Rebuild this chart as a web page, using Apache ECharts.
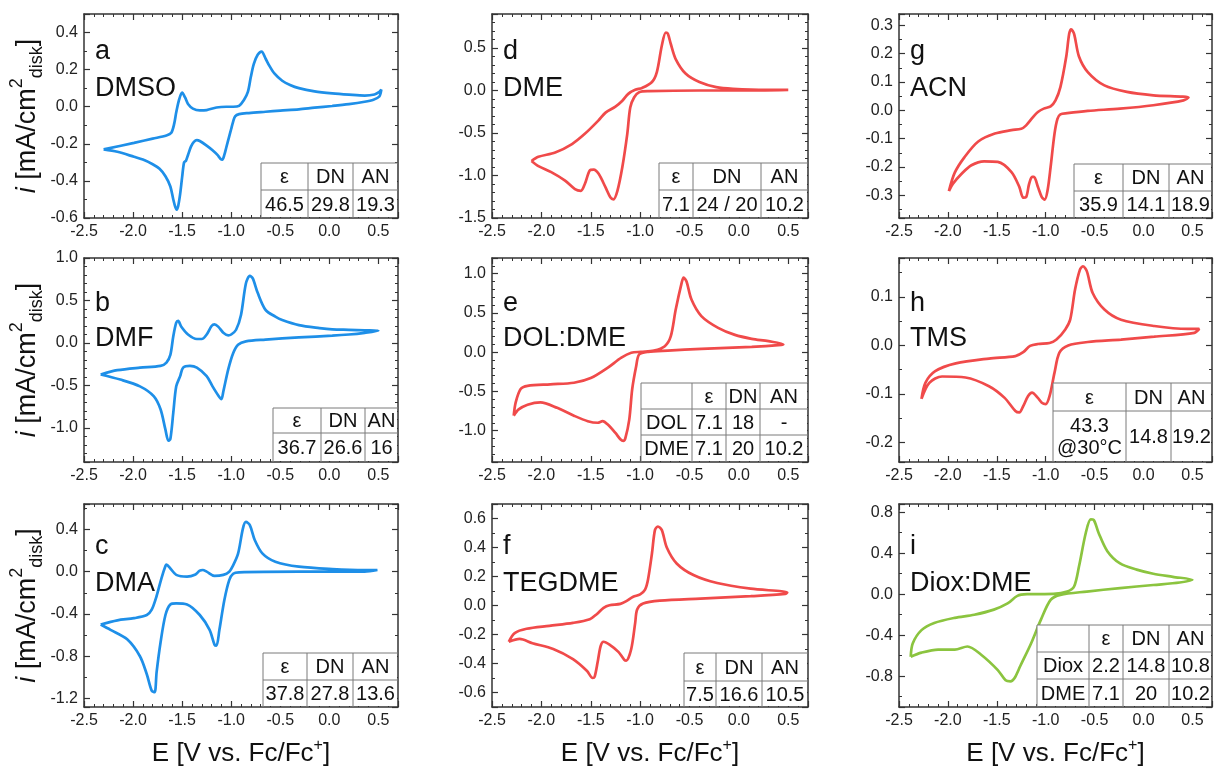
<!DOCTYPE html>
<html><head><meta charset="utf-8">
<script src="https://cdn.jsdelivr.net/npm/echarts@6/dist/echarts.min.js"></script>
<style>html,body{margin:0;padding:0;background:#fff}#c{width:1217px;height:766px}</style>
</head><body><div id="c"></div>
<script>
// ---------- DATA: [E (V vs Fc/Fc+), i (mA/cm^2)] ----------
const dmso = [[-2.30,-0.230],[-1.99,-0.195],[-1.80,-0.172],[-1.66,-0.155],[-1.61,-0.140],[-1.58,-0.090],[-1.56,-0.030],[-1.53,0.040],[-1.50,0.076],[-1.47,0.050],[-1.44,0.015],[-1.39,-0.010],[-1.32,-0.020],[-1.25,-0.018],[-1.15,-0.004],[-1.05,0.000],[-0.98,0.000],[-0.92,0.005],[-0.87,0.036],[-0.83,0.080],[-0.80,0.160],[-0.77,0.230],[-0.73,0.280],[-0.69,0.297],[-0.65,0.260],[-0.61,0.220],[-0.56,0.180],[-0.48,0.140],[-0.40,0.117],[-0.31,0.100],[-0.15,0.083],[0.03,0.072],[0.20,0.065],[0.36,0.060],[0.46,0.066],[0.51,0.080],[0.53,0.092],[0.51,0.055],[0.45,0.038],[0.36,0.027],[0.20,0.014],[0.03,0.004],[-0.15,-0.005],[-0.31,-0.014],[-0.50,-0.021],[-0.65,-0.027],[-0.82,-0.034],[-0.92,-0.040],[-0.96,-0.052],[-0.98,-0.080],[-1.00,-0.120],[-1.02,-0.160],[-1.05,-0.220],[-1.07,-0.260],[-1.09,-0.285],[-1.11,-0.280],[-1.14,-0.260],[-1.19,-0.235],[-1.25,-0.210],[-1.32,-0.185],[-1.35,-0.180],[-1.38,-0.190],[-1.41,-0.215],[-1.44,-0.260],[-1.46,-0.290],[-1.48,-0.300],[-1.50,-0.380],[-1.52,-0.470],[-1.54,-0.535],[-1.555,-0.555],[-1.57,-0.540],[-1.59,-0.500],[-1.62,-0.430],[-1.67,-0.375],[-1.73,-0.335],[-1.80,-0.310],[-1.90,-0.285],[-1.99,-0.270],[-2.16,-0.243],[-2.30,-0.230]];

const dmf = [[-2.33,-0.37],[-2.16,-0.32],[-1.93,-0.29],[-1.72,-0.27],[-1.66,-0.23],[-1.62,-0.14],[-1.59,0.08],[-1.56,0.24],[-1.54,0.26],[-1.51,0.195],[-1.44,0.10],[-1.35,0.047],[-1.30,0.047],[-1.25,0.10],[-1.20,0.20],[-1.17,0.22],[-1.13,0.19],[-1.08,0.12],[-1.03,0.09],[-1.00,0.10],[-0.95,0.156],[-0.90,0.33],[-0.85,0.70],[-0.81,0.79],[-0.78,0.76],[-0.73,0.59],[-0.65,0.39],[-0.55,0.31],[-0.48,0.27],[-0.31,0.21],[-0.10,0.175],[0.03,0.16],[0.20,0.155],[0.36,0.15],[0.50,0.145],[0.36,0.12],[0.20,0.10],[0.03,0.086],[-0.31,0.066],[-0.65,0.04],[-0.85,0.02],[-0.93,-0.02],[-0.98,-0.12],[-1.03,-0.31],[-1.08,-0.57],[-1.10,-0.66],[-1.13,-0.62],[-1.19,-0.51],[-1.25,-0.39],[-1.35,-0.29],[-1.42,-0.27],[-1.49,-0.29],[-1.52,-0.39],[-1.56,-0.51],[-1.59,-0.82],[-1.62,-1.13],[-1.64,-1.15],[-1.67,-1.02],[-1.72,-0.78],[-1.79,-0.625],[-1.93,-0.51],[-2.13,-0.43],[-2.33,-0.37]];

const dma = [[-2.33,-0.50],[-2.16,-0.46],[-1.99,-0.44],[-1.86,-0.41],[-1.81,-0.36],[-1.76,-0.23],[-1.71,-0.06],[-1.67,0.053],[-1.66,0.066],[-1.62,0.03],[-1.56,-0.03],[-1.45,-0.047],[-1.37,-0.03],[-1.32,0.01],[-1.29,0.016],[-1.25,0.00],[-1.17,-0.04],[-1.08,-0.03],[-1.02,0.00],[-0.98,0.06],[-0.93,0.17],[-0.88,0.41],[-0.85,0.47],[-0.81,0.44],[-0.76,0.30],[-0.68,0.17],[-0.55,0.094],[-0.31,0.047],[0.03,0.025],[0.36,0.016],[0.49,0.016],[0.36,0.00],[0.03,0.00],[-0.31,0.00],[-0.92,-0.006],[-0.98,-0.02],[-1.02,-0.08],[-1.07,-0.27],[-1.12,-0.55],[-1.15,-0.70],[-1.17,-0.69],[-1.22,-0.55],[-1.32,-0.41],[-1.45,-0.31],[-1.56,-0.30],[-1.62,-0.31],[-1.67,-0.41],[-1.72,-0.67],[-1.76,-0.95],[-1.78,-1.14],[-1.81,-1.125],[-1.86,-0.97],[-1.93,-0.80],[-2.06,-0.64],[-2.23,-0.55],[-2.33,-0.50]];

const dme = [[-2.10,-0.83],[-2.03,-0.78],[-1.86,-0.73],[-1.69,-0.63],[-1.56,-0.51],[-1.42,-0.35],[-1.35,-0.26],[-1.25,-0.19],[-1.18,-0.12],[-1.12,-0.04],[-1.05,0.008],[-0.98,0.03],[-0.88,0.10],[-0.83,0.22],[-0.78,0.53],[-0.74,0.68],[-0.72,0.67],[-0.69,0.55],[-0.64,0.37],[-0.54,0.20],[-0.40,0.10],[-0.23,0.04],[-0.06,0.02],[0.28,0.008],[0.50,0.008],[0.00,0.00],[-0.40,0.00],[-0.91,-0.008],[-1.01,-0.02],[-1.06,-0.08],[-1.10,-0.20],[-1.13,-0.51],[-1.18,-0.90],[-1.23,-1.18],[-1.27,-1.28],[-1.30,-1.26],[-1.35,-1.14],[-1.42,-0.98],[-1.47,-0.93],[-1.51,-0.94],[-1.56,-1.10],[-1.60,-1.18],[-1.66,-1.16],[-1.76,-1.06],[-1.90,-0.96],[-2.03,-0.89],[-2.10,-0.83]];

const dolDme = [[-2.28,-0.81],[-2.26,-0.64],[-2.21,-0.47],[-2.14,-0.43],[-1.91,-0.41],[-1.67,-0.39],[-1.50,-0.33],[-1.33,-0.20],[-1.19,-0.07],[-1.09,-0.008],[-0.99,0.004],[-0.86,0.02],[-0.75,0.076],[-0.69,0.20],[-0.64,0.54],[-0.58,0.88],[-0.56,0.95],[-0.53,0.90],[-0.48,0.67],[-0.38,0.46],[-0.21,0.31],[-0.04,0.22],[0.13,0.17],[0.30,0.14],[0.45,0.10],[0.43,0.093],[0.13,0.068],[-0.38,0.042],[-0.72,0.02],[-0.92,0.004],[-1.01,-0.03],[-1.04,-0.18],[-1.08,-0.47],[-1.11,-0.86],[-1.15,-1.10],[-1.17,-1.13],[-1.20,-1.11],[-1.25,-1.03],[-1.33,-0.92],[-1.38,-0.88],[-1.43,-0.90],[-1.53,-0.88],[-1.67,-0.81],[-1.84,-0.71],[-2.01,-0.64],[-2.14,-0.67],[-2.23,-0.73],[-2.28,-0.81]];

const tegdme = [[-2.33,-0.25],[-2.27,-0.19],[-2.15,-0.16],[-1.92,-0.14],[-1.68,-0.12],[-1.51,-0.095],[-1.44,-0.06],[-1.37,-0.016],[-1.31,0.002],[-1.20,0.011],[-1.14,0.03],[-1.07,0.06],[-1.00,0.077],[-0.95,0.11],[-0.92,0.18],[-0.88,0.36],[-0.85,0.52],[-0.82,0.545],[-0.78,0.52],[-0.73,0.40],[-0.63,0.29],[-0.46,0.21],[-0.22,0.155],[0.12,0.116],[0.49,0.09],[0.47,0.08],[0.12,0.064],[-0.39,0.048],[-0.80,0.034],[-0.97,0.014],[-1.03,-0.027],[-1.05,-0.12],[-1.09,-0.30],[-1.14,-0.38],[-1.16,-0.375],[-1.22,-0.32],[-1.31,-0.27],[-1.37,-0.25],[-1.40,-0.28],[-1.43,-0.39],[-1.46,-0.49],[-1.48,-0.50],[-1.54,-0.45],[-1.68,-0.37],[-1.88,-0.30],[-2.09,-0.26],[-2.22,-0.23],[-2.33,-0.25]];

const acn = [[-1.99,-0.285],[-1.93,-0.22],[-1.83,-0.165],[-1.69,-0.11],[-1.52,-0.082],[-1.35,-0.07],[-1.25,-0.065],[-1.20,-0.053],[-1.13,-0.024],[-1.08,-0.006],[-1.02,0.006],[-0.95,0.014],[-0.90,0.035],[-0.85,0.082],[-0.79,0.19],[-0.76,0.27],[-0.74,0.286],[-0.71,0.27],[-0.66,0.19],[-0.57,0.135],[-0.40,0.088],[-0.17,0.065],[0.10,0.053],[0.46,0.045],[0.41,0.035],[0.10,0.018],[-0.24,0.006],[-0.57,-0.002],[-0.78,-0.01],[-0.85,-0.014],[-0.88,-0.03],[-0.91,-0.082],[-0.95,-0.20],[-0.98,-0.28],[-1.01,-0.315],[-1.04,-0.306],[-1.08,-0.27],[-1.12,-0.235],[-1.14,-0.235],[-1.17,-0.26],[-1.20,-0.306],[-1.23,-0.308],[-1.27,-0.27],[-1.35,-0.218],[-1.49,-0.182],[-1.63,-0.18],[-1.76,-0.194],[-1.86,-0.224],[-1.95,-0.26],[-1.99,-0.285]];

const tms = [[-2.27,-0.11],[-2.23,-0.077],[-2.13,-0.053],[-1.92,-0.037],[-1.58,-0.027],[-1.31,-0.022],[-1.23,-0.014],[-1.16,-0.001],[-1.08,0.003],[-0.96,0.005],[-0.89,0.012],[-0.80,0.033],[-0.75,0.053],[-0.70,0.115],[-0.65,0.156],[-0.62,0.163],[-0.58,0.153],[-0.52,0.108],[-0.40,0.074],[-0.23,0.053],[0.11,0.04],[0.45,0.034],[0.57,0.034],[0.52,0.026],[0.11,0.018],[-0.23,0.012],[-0.57,0.007],[-0.77,0.00],[-0.86,-0.015],[-0.91,-0.056],[-0.96,-0.104],[-1.00,-0.121],[-1.04,-0.118],[-1.08,-0.108],[-1.14,-0.097],[-1.18,-0.104],[-1.23,-0.125],[-1.27,-0.138],[-1.31,-0.135],[-1.42,-0.108],[-1.58,-0.084],[-1.82,-0.066],[-2.06,-0.064],[-2.19,-0.077],[-2.27,-0.11]];

const dioxDme = [[-2.38,-0.61],[-2.36,-0.48],[-2.27,-0.35],[-2.14,-0.28],[-1.93,-0.23],[-1.73,-0.20],[-1.53,-0.15],[-1.39,-0.09],[-1.29,-0.016],[-1.19,0.00],[-0.92,0.003],[-0.78,0.026],[-0.71,0.075],[-0.66,0.27],[-0.59,0.60],[-0.54,0.73],[-0.51,0.725],[-0.46,0.60],[-0.37,0.42],[-0.24,0.30],[-0.07,0.24],[0.10,0.20],[0.30,0.17],[0.50,0.14],[0.37,0.114],[0.10,0.09],[-0.24,0.06],[-0.58,0.026],[-0.85,-0.006],[-0.95,-0.055],[-1.05,-0.25],[-1.15,-0.48],[-1.26,-0.70],[-1.32,-0.82],[-1.36,-0.85],[-1.41,-0.84],[-1.49,-0.74],[-1.66,-0.59],[-1.80,-0.51],[-1.93,-0.54],[-2.10,-0.54],[-2.27,-0.57],[-2.38,-0.61]];

// panel letters / solvent names
const letters = ['a','b','c','d','e','f','g','h','i'];
const solvents = ['DMSO','DMF','DMA','DME','DOL:DME','TEGDME','ACN','TMS','Diox:DME'];

// y-axis ranges: [min, max, major interval]
const yRanges = [[-0.6,0.5,0.2],[-1.4,1.0,0.5],[-1.28,0.64,0.4],[-1.5,0.9,0.5],[-1.4,1.2,0.5],[-0.7,0.7,0.2],[-0.38,0.34,0.1],[-0.24,0.18,0.1],[-1.1,0.88,0.4]];
const xRange = [-2.5, 0.7, 0.5];

// solvent property tables
const tables = [
  [['ε','DN','AN'],['46.5','29.8','19.3']],
  [['ε','DN','AN'],['36.7','26.6','16']],
  [['ε','DN','AN'],['37.8','27.8','13.6']],
  [['ε','DN','AN'],['7.1','24 / 20','10.2']],
  [['','ε','DN','AN'],['DOL','7.1','18','-'],['DME','7.1','20','10.2']],
  [['ε','DN','AN'],['7.5','16.6','10.5']],
  [['ε','DN','AN'],['35.9','14.1','18.9']],
  [['ε','DN','AN'],['43.3\n@30°C','14.8','19.2']],
  [['','ε','DN','AN'],['Diox','2.2','14.8','10.8'],['DME','7.1','20','10.2']]
];

// ---------- LAYOUT / STYLE ----------
const FONT = '"Liberation Sans", Arial, sans-serif';
const BLUE = '#1e8fe8', RED = '#f04a4a', GREEN = '#8bc43f';
const series = [dmso, dmf, dma, dme, dolDme, tegdme, acn, tms, dioxDme];
const colors = [BLUE,BLUE,BLUE,RED,RED,RED,RED,RED,GREEN];
const minorY = [2,5,2,5,5,2,2,2,2];
const colLeft = [84, 492, 899], colW = [314, 316, 313];
const rowTop = [14, 258, 504], rowH = [204, 204, 203];
const letterBase = [38, 290, 533], nameBase = [75, 325, 570];
const tableLayout = [
  {cols:[261,308,353,398], rows:[163,190,218]},
  {cols:[273,321,365,398], rows:[408,433,462]},
  {cols:[263,307,353,398], rows:[653,680,707]},
  {cols:[659,693,761,808], rows:[163,190,218]},
  {cols:[641,692,726,760,808], rows:[383,409,435,462]},
  {cols:[684,716,762,808], rows:[653,681,707]},
  {cols:[1074,1123,1169,1212], rows:[164,191,218]},
  {cols:[1053,1126,1171,1212], rows:[383,411,462]},
  {cols:[1037,1089,1123,1169,1212], rows:[625,652,679,707]}
];

function fmt(iv){
  return function(v){
    const k = v/iv;
    if (Math.abs(k - Math.round(k)) > 1e-6) return '';
    const r = Math.round(k)*iv;
    return (Math.abs(r) < 1e-9 ? 0 : r).toFixed(1);
  };
}
function axis(gi, pos, rng, minorSplit, showLabel){
  return {
    type:'value', gridIndex:gi, position:pos, min:rng[0], max:rng[1],
    minInterval:rng[2], maxInterval:rng[2], splitNumber:Math.round((rng[1]-rng[0])/rng[2]),
    axisLine:{show:true, onZero:false, lineStyle:{color:'#333', width:1.5}},
    axisTick:{show:true, inside:true, length:6, lineStyle:{color:'#333', width:1.2}},
    minorTick:{show:true, splitNumber:minorSplit, length:3, lineStyle:{color:'#333', width:1}},
    splitLine:{show:false}, minorSplitLine:{show:false},
    axisLabel:{show:showLabel, formatter:fmt(rng[2]), color:'#222', fontSize:16, fontFamily:FONT, margin:6, hideOverlap:false},
  };
}

const grids = [], xAxes = [], yAxes = [], sers = [], graphics = [];
for (let k = 0; k < 9; k++){
  const c = Math.floor(k/3), r = k%3;
  const L = colLeft[c], T = rowTop[r];
  grids.push({left:L, top:T, width:colW[c], height:rowH[r], containLabel:false, outerBoundsMode:'none'});
  const xb = axis(k,'bottom',xRange,5,true);
  if (r === 2){
    xb.name = '{n|E [V vs. Fc/Fc}{sup|+}{n|]}';
    xb.nameLocation = 'middle'; xb.nameGap = 31;
    xb.nameTextStyle = {fontFamily:FONT, color:'#111', fontSize:26, lineHeight:32,
      rich:{n:{fontFamily:FONT, fontSize:26, lineHeight:32, color:'#111'},
            sup:{fontFamily:FONT, fontSize:16, lineHeight:16, verticalAlign:'top', color:'#111'}}};
  }
  xAxes.push(xb, axis(k,'top',xRange,5,false));
  const yl = axis(k,'left',yRanges[k],minorY[k],true);
  if (c === 0){
    yl.name = '{it|i} {n|[mA/cm}{sup|2}{sub|disk}{n|]}';
    yl.nameLocation = 'middle'; yl.nameGap = 32; yl.nameRotate = 90;
    yl.nameTextStyle = {fontFamily:FONT, color:'#111', fontSize:27, lineHeight:38,
      rich:{it:{fontFamily:FONT, fontStyle:'italic', fontSize:27, lineHeight:38, color:'#111'},
            n:{fontFamily:FONT, fontSize:27, lineHeight:38, color:'#111'},
            sup:{fontFamily:FONT, fontSize:18, lineHeight:18, verticalAlign:'top', color:'#111'},
            sub:{fontFamily:FONT, fontSize:18, lineHeight:18, verticalAlign:'bottom', color:'#111'}}};
  }
  yAxes.push(yl, axis(k,'right',yRanges[k],minorY[k],false));
  sers.push({type:'line', xAxisIndex:2*k, yAxisIndex:2*k, data:series[k], symbol:'none', showSymbol:false,
    smooth:0.3, lineStyle:{color:colors[k], width:2.7}, itemStyle:{color:colors[k]}, animation:false, z:3});

  const tstyle = (x,y,s,size,al) => ({type:'text', z:100, silent:true,
    style:{text:s, x:x, y:y, font:size+'px '+FONT, fill:'#111', align:al, textAlign:al, verticalAlign:'alphabetic', textVerticalAlign:'alphabetic'}});
  graphics.push(tstyle(L+11, letterBase[r], letters[k], 27, 'left'));
  graphics.push(tstyle(L+11, nameBase[r], solvents[k], 27, 'left'));

  // table
  const tl = tableLayout[k], cols = tl.cols, rows = tl.rows, tb = tables[k];
  graphics.push({type:'rect', z:90, silent:true, shape:{x:cols[0], y:rows[0], width:cols[cols.length-1]-cols[0]-1, height:rows[rows.length-1]-rows[0]-1}, style:{fill:'#fff'}});
  for (let ci = 0; ci < cols.length-1; ci++)
    graphics.push({type:'line', z:95, silent:true, shape:{x1:cols[ci], y1:rows[0], x2:cols[ci], y2:rows[rows.length-1]}, style:{stroke:'#7a7a7a', lineWidth:1}});
  for (let ri = 0; ri < rows.length-1; ri++)
    graphics.push({type:'line', z:95, silent:true, shape:{x1:cols[0], y1:rows[ri], x2:cols[cols.length-1], y2:rows[ri]}, style:{stroke:'#7a7a7a', lineWidth:1}});
  for (let ri = 0; ri < tb.length; ri++){
    for (let ci = 0; ci < tb[ri].length; ci++){
      const cx = (cols[ci]+cols[ci+1])/2, cy = (rows[ri]+rows[ri+1])/2;
      graphics.push({type:'text', z:100, silent:true,
        style:{text:tb[ri][ci], x:cx, y:cy+1, font:'20px '+FONT, fill:'#111', align:'center', textAlign:'center',
          verticalAlign:'middle', textVerticalAlign:'middle', lineHeight:22}});
    }
  }
}

const chart = echarts.init(document.getElementById('c'), null, {renderer:'canvas'});
chart.setOption({
  animation:false, backgroundColor:'#fff',
  grid:grids, xAxis:xAxes, yAxis:yAxes, series:sers, graphic:{elements:graphics}
});
</script></body></html>
